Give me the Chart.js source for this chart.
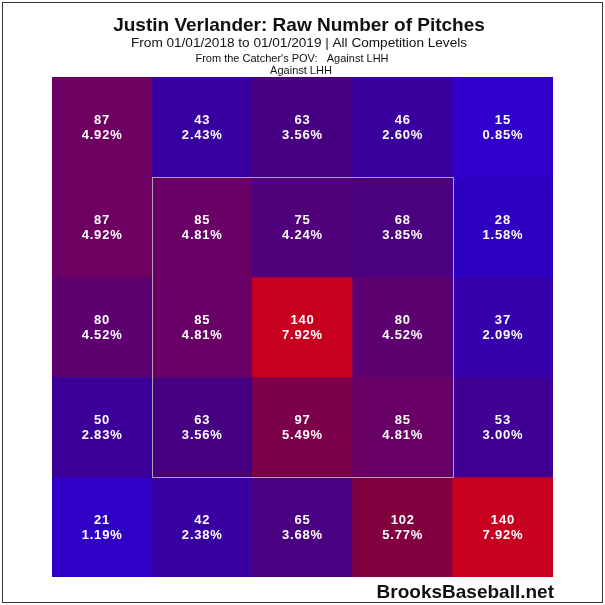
<!DOCTYPE html>
<html>
<head>
<meta charset="utf-8">
<script src="https://cdn.jsdelivr.net/npm/chart.js@4/dist/chart.umd.min.js"></script>
<style>
  html, body { margin: 0; padding: 0; background: #fff; }
  #wrap { width: 605px; height: 605px; position: relative; }
</style>
</head>
<body>
<div id="wrap"><canvas id="zone-chart" width="605" height="605"></canvas></div>
<script>
// zone columns, left to right (catcher's view)
const columns = ["c1", "c2", "c3", "c4", "c5"];

// pitch counts, top row first
const row1Counts = [87, 43, 63, 46, 15];
const row2Counts = [87, 85, 75, 68, 28];
const row3Counts = [80, 85, 140, 80, 37];
const row4Counts = [50, 63, 97, 85, 53];
const row5Counts = [21, 42, 65, 102, 140];

// share of all pitches (%)
const row1Pct = [4.92, 2.43, 3.56, 2.60, 0.85];
const row2Pct = [4.92, 4.81, 4.24, 3.85, 1.58];
const row3Pct = [4.52, 4.81, 7.92, 4.52, 2.09];
const row4Pct = [2.83, 3.56, 5.49, 4.81, 3.00];
const row5Pct = [1.19, 2.38, 3.68, 5.77, 7.92];

const rowCounts = [row1Counts, row2Counts, row3Counts, row4Counts, row5Counts];
const rowPct = [row1Pct, row2Pct, row3Pct, row4Pct, row5Pct];

// colour ramp, blue (few) -> red (many)
const ramp = [
  [15, [50, 0, 205]],
  [28, [48, 0, 192]],
  [40, [56, 0, 165]],
  [50, [60, 0, 152]],
  [63, [72, 0, 130]],
  [75, [80, 0, 122]],
  [87, [110, 0, 98]],
  [97, [124, 0, 74]],
  [102, [130, 0, 64]],
  [140, [200, 0, 32]],
];

function colorFor(v) {
  if (v <= ramp[0][0]) return "rgb(" + ramp[0][1].join(",") + ")";
  for (let i = 1; i < ramp.length; i++) {
    if (v <= ramp[i][0]) {
      const [v0, c0] = ramp[i - 1];
      const [v1, c1] = ramp[i];
      const t = (v - v0) / (v1 - v0);
      const c = c0.map((a, k) => Math.round(a + (c1[k] - a) * t));
      return "rgb(" + c.join(",") + ")";
    }
  }
  return "rgb(" + ramp[ramp.length - 1][1].join(",") + ")";
}

const datasets = rowCounts.map((counts, r) => ({
  label: "row " + (r + 1),
  data: counts.map(() => 1),
  counts: counts,
  pct: rowPct[r],
  backgroundColor: counts.map(colorFor),
  borderWidth: 0,
  barPercentage: 1,
  categoryPercentage: 1,
}));

const decorations = {
  id: "decorations",
  beforeDraw(chart) {
    const ctx = chart.ctx;
    ctx.save();
    ctx.fillStyle = "#fff";
    ctx.fillRect(0, 0, chart.width, chart.height);
    ctx.restore();
  },
  afterDatasetsDraw(chart) {
    const ctx = chart.ctx;
    const x = chart.scales.x, y = chart.scales.y;

    // cell labels
    ctx.save();
    ctx.fillStyle = "#fff";
    ctx.font = "bold 13px 'Liberation Sans', Arial, sans-serif";
    ctx.textAlign = "center";
    ctx.textBaseline = "middle";
    if ("letterSpacing" in ctx) ctx.letterSpacing = "0.8px";
    chart.data.datasets.forEach((ds, r) => {
      chart.getDatasetMeta(r).data.forEach((bar, c) => {
        const cy = (bar.y + bar.base) / 2;
        ctx.fillText(String(ds.counts[c]), bar.x, cy - 7);
        ctx.fillText(ds.pct[c].toFixed(2) + "%", bar.x, cy + 8);
      });
    });
    ctx.restore();

    // strike zone box (inner 3x3)
    const half = (x.getPixelForValue(1) - x.getPixelForValue(0)) / 2;
    const left = x.getPixelForValue(1) - half;
    const right = x.getPixelForValue(3) + half;
    const top = y.getPixelForValue(1);
    const bottom = y.getPixelForValue(4);
    ctx.save();
    ctx.strokeStyle = "rgba(190,190,190,0.85)";
    ctx.lineWidth = 1;
    ctx.strokeRect(Math.round(left) + 0.5, Math.round(top) + 0.5,
      Math.round(right - left), Math.round(bottom - top));
    ctx.restore();

    // header + footer text
    ctx.save();
    ctx.fillStyle = "#111";
    ctx.textAlign = "center";
    ctx.textBaseline = "alphabetic";
    ctx.font = "bold 19px 'Liberation Sans', Arial, sans-serif";
    ctx.fillText("Justin Verlander: Raw Number of Pitches", 299, 31);
    ctx.font = "13.6px 'Liberation Sans', Arial, sans-serif";
    ctx.fillText("From 01/01/2018 to 01/01/2019 | All Competition Levels", 299, 47);
    ctx.font = "11px 'Liberation Sans', Arial, sans-serif";
    ctx.fillText("From the Catcher's POV:   Against LHH", 292, 62);
    ctx.fillText("Against LHH", 301, 74);
    ctx.font = "bold 19px 'Liberation Sans', Arial, sans-serif";
    ctx.textAlign = "right";
    ctx.fillText("BrooksBaseball.net", 554, 598);
    ctx.restore();

    // outer frame
    ctx.save();
    ctx.strokeStyle = "#333";
    ctx.lineWidth = 1;
    ctx.strokeRect(2.5, 2.5, chart.width - 5, chart.height - 5);
    ctx.restore();
  },
};

new Chart(document.getElementById("zone-chart").getContext("2d"), {
  type: "bar",
  data: { labels: columns, datasets: datasets },
  options: {
    responsive: false,
    animation: false,
    devicePixelRatio: 1,
    layout: { padding: { left: 52, right: 52, top: 77, bottom: 28 } },
    plugins: { legend: { display: false }, tooltip: { enabled: false }, title: { display: false } },
    scales: {
      x: { display: false, stacked: true },
      y: { display: false, stacked: true, min: 0, max: 5, reverse: true },
    },
  },
  plugins: [decorations],
});
</script>
</body>
</html>
